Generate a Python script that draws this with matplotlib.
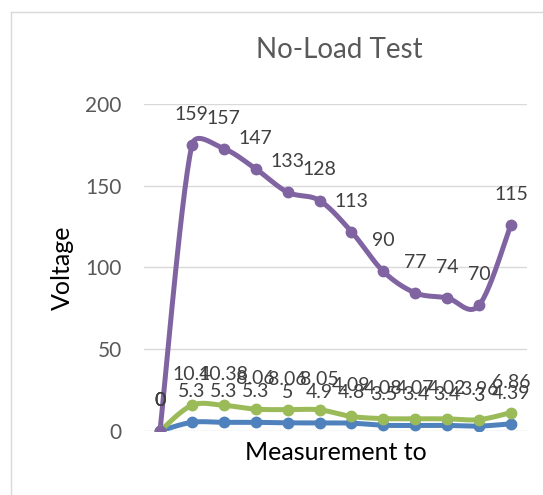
import matplotlib.pyplot as plt
from matplotlib.lines import Line2D
import numpy as np

plt.rcParams['font.family'] = ['Lato', 'DejaVu Sans']

# No-load test readings, three series stacked on top of each other (Excel stacked line)
points = list(range(12))
series_a = [0, 5.3, 5.3, 5.3, 5, 4.9, 4.8, 3.5, 3.4, 3.4, 3, 4.39]
series_b = [0, 10.4, 10.38, 8.06, 8.06, 8.05, 4.09, 4.08, 4.07, 4.02, 3.96, 6.86]
series_c = [0, 159, 157, 147, 133, 128, 113, 90, 77, 74, 70, 115]
colors = ['#4F81BD', '#9BBB59', '#8064A2']

# pixels per data unit, so the smoothing works in screen space like Excel
XS, YS = 31.9, 1.635


def smooth(x, y, n=30):
    # Excel-like smoothed line: Bezier, tension 1/6, control arm capped at half the segment
    p = np.column_stack([np.asarray(x, float) * XS, np.asarray(y, float) * YS])
    m = len(p)
    out = []
    t = np.linspace(0, 1, n)[:, None]
    for i in range(m - 1):
        p1, p2 = p[i], p[i + 1]
        p0 = p[i - 1] if i > 0 else p1
        p3 = p[i + 2] if i + 2 < m else p2
        d12 = np.linalg.norm(p2 - p1)
        d02 = np.linalg.norm(p2 - p0)
        d13 = np.linalg.norm(p3 - p1)
        f1 = 1 / 6 if d02 / 6 <= d12 / 2 else d12 / (2 * d02)
        f2 = 1 / 6 if d13 / 6 <= d12 / 2 else d12 / (2 * d13)
        c1 = p1 + (p2 - p0) * f1
        c2 = p2 - (p3 - p1) * f2
        b = ((1 - t) ** 3) * p1 + 3 * (1 - t) ** 2 * t * c1 + 3 * (1 - t) * t ** 2 * c2 + t ** 3 * p2
        out.append(b)
    out = np.concatenate(out)
    return out[:, 0] / XS, out[:, 1] / YS


fig = plt.figure(figsize=(5.43, 4.95), dpi=100)
ax = fig.add_axes([0.2652, 0.1293, 0.7053, 0.6606])

# chart area border (runs off the right and bottom of the image)
fig.add_artist(Line2D([11 / 543, 1], [1 - 12 / 495] * 2, color='#D9D9D9', lw=1))
fig.add_artist(Line2D([11 / 543] * 2, [0, 1 - 12 / 495], color='#D9D9D9', lw=1))

base = np.zeros(len(points))
for vals, col in zip([series_a, series_b, series_c], colors):
    top = base + np.array(vals)
    sx, sy = smooth(points, top)
    ax.plot(sx, sy, color=col, lw=3.6, solid_capstyle='round', zorder=3)
    ax.plot(points, top, 'o', color=col, ms=7.5, zorder=4)
    for xi, yi, v in zip(points, top, vals):
        ax.annotate(f'{v:g}', (xi, yi), xytext=(0, 22), textcoords='offset points',
                    ha='center', va='center', fontsize=14, color='#404040', zorder=5)
    base = top

ax.set_xlim(-0.5, 11.5)
ax.set_ylim(0, 200)
ax.set_yticks([0, 50, 100, 150, 200])
ax.set_xticks([])
ax.grid(axis='y', color='#D9D9D9', lw=1)
ax.set_axisbelow(True)
for s in ax.spines.values():
    s.set_visible(False)
ax.tick_params(axis='y', length=0, pad=16, labelsize=15, labelcolor='#595959')

fig.text(339 / 543, 1 - 50 / 495, 'No-Load Test', ha='center', va='center',
         fontsize=20, color='#595959')
fig.text(62 / 543, 1 - 268 / 495, 'Voltage', ha='center', va='center',
         rotation=90, fontsize=18, color='black')
fig.text(336 / 543, 1 - 453 / 495, 'Measurement to', ha='center', va='center',
         fontsize=18, color='black')

fig.savefig('out.png', dpi=100)
